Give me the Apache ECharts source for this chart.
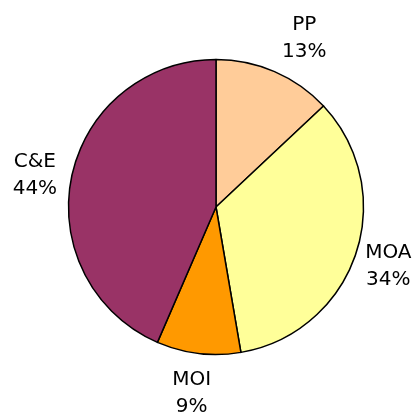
<!DOCTYPE html>
<html><head><meta charset="utf-8">
<script src="https://cdn.jsdelivr.net/npm/echarts@6/dist/echarts.min.js"></script>
<style>html,body{margin:0;padding:0;background:#fff}#c{width:418px;height:414px}</style>
</head><body><div id="c"></div>
<script>
const categories = ['PP', 'MOA', 'MOI', 'C&E'];
const values = [13.0, 34.3, 9.2, 43.5];
const colors = ['#FFCC99', '#FFFF99', '#FF9900', '#993366'];
// label nudges (style only)
const labelOffsets = [[14, 3], [-5, 0], [-2, 1], [2, 6]];

const chart = echarts.init(document.getElementById('c'), null, {renderer: 'canvas'});
const total = values.reduce((a, b) => a + b, 0);
const mainData = categories.map((c, i) => ({name: c, value: values[i], itemStyle: {color: colors[i]}}));
const labelData = categories.map((c, i) => ({name: c, value: values[i], label: {offset: labelOffsets[i]}}));
chart.setOption({
  animation: false,
  series: [{
    type: 'pie',
    center: [216, 207],
    radius: [0, 147.5],
    startAngle: 90,
    clockwise: true,
    data: mainData,
    label: {show: false},
    labelLine: {show: false},
    itemStyle: {borderColor: '#000', borderWidth: 1.5},
    silent: true
  }, {
    type: 'pie',
    center: [216, 207],
    radius: [170, 198],
    startAngle: 90,
    clockwise: true,
    data: labelData,
    itemStyle: {color: 'rgba(0,0,0,0)', borderWidth: 0},
    label: {
      show: true,
      position: 'inside',
      formatter: p => p.name + '\n' + Math.round(+(p.value / total * 100).toFixed(1)) + '%',
      fontFamily: 'DejaVu Sans, sans-serif',
      fontSize: 20,
      lineHeight: 27,
      color: '#000',
      align: 'center'
    },
    labelLine: {show: false},
    emphasis: {disabled: true},
    silent: true
  }]
});
</script></body></html>
